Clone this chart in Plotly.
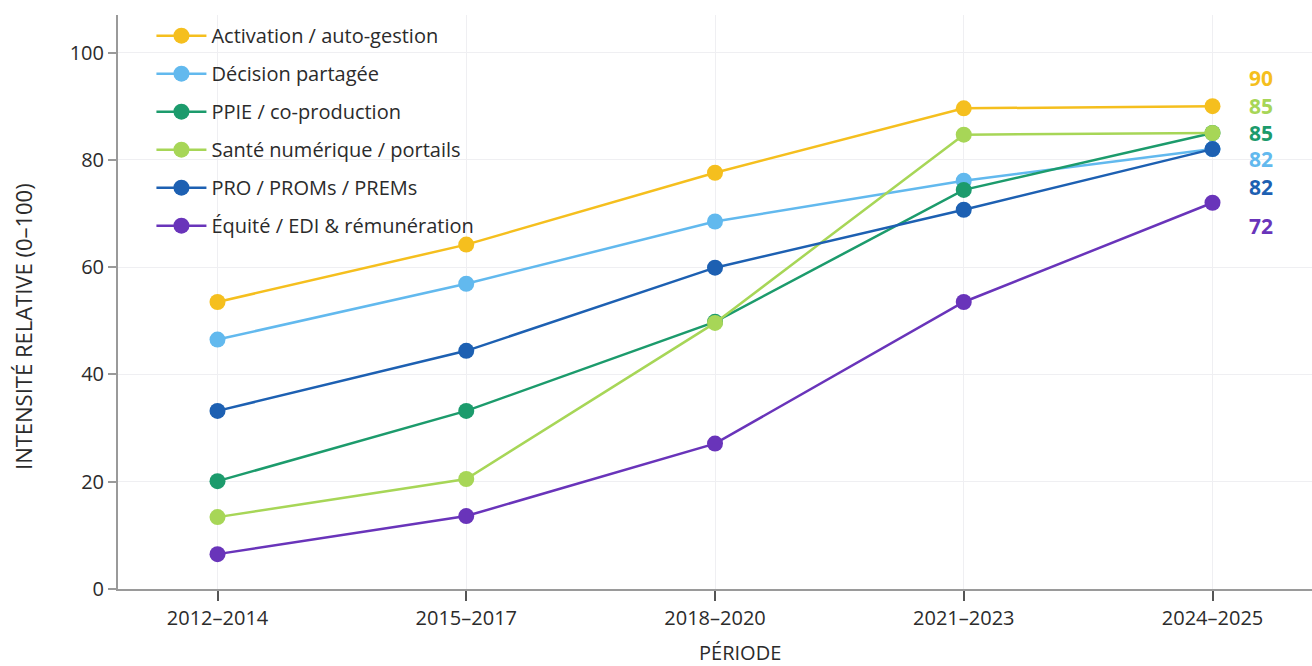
import plotly.graph_objects as go

periods = ["2012–2014", "2015–2017", "2018–2020", "2021–2023", "2024–2025"]

activation = [53.5, 64.2, 77.6, 89.6, 90]
decision = [46.5, 56.9, 68.5, 76.1, 82]
ppie = [20.1, 33.2, 49.8, 74.4, 85]
sante = [13.4, 20.5, 49.6, 84.7, 85]
pro = [33.2, 44.4, 59.9, 70.7, 82]
equite = [6.5, 13.6, 27.1, 53.5, 72]

series_names = [
    "Activation / auto-gestion",
    "Décision partagée",
    "PPIE / co-production",
    "Santé numérique / portails",
    "PRO / PROMs / PREMs",
    "Équité / EDI & rémunération",
]
series_values = [activation, decision, ppie, sante, pro, equite]
colors = ["#F5BF1E", "#62B9EE", "#1C9B6C", "#A7D657", "#1D60B2", "#6934BA"]

# vertical nudges (px) so the end labels don't collide
label_shift = [28, -10, 0, 27, -38, -23]

FONT = "Open Sans, sans-serif"
TEXT = "#2B2B2B"

fig = go.Figure()
for i, (name, vals, col) in enumerate(zip(series_names, series_values, colors)):
    fig.add_trace(go.Scatter(
        x=periods, y=vals, name=name, mode="lines+markers",
        line=dict(color=col, width=2.5),
        marker=dict(color=col, size=16),
        legendgroup=f"g{i}",
        cliponaxis=False,
    ))
    fig.add_annotation(
        x=periods[-1], y=vals[-1], text=f"<b>{vals[-1]:g}</b>",
        showarrow=False, xanchor="center", yanchor="middle",
        xshift=48, yshift=label_shift[i],
        font=dict(family=FONT, size=21, color=col),
    )

# axis titles
fig.add_annotation(
    x=0.521, y=0, xref="paper", yref="paper", yanchor="middle",
    yshift=-63, text="PÉRIODE", showarrow=False,
    font=dict(family=FONT, size=20, color=TEXT),
)
fig.add_annotation(
    x=0, y=0.5, xref="paper", yref="paper", xanchor="center", yanchor="middle",
    xshift=-95, yshift=-25, text="INTENSITÉ RELATIVE (0–100)", textangle=-90,
    showarrow=False, font=dict(family=FONT, size=22, color=TEXT),
)

fig.update_layout(
    width=1312, height=666,
    margin=dict(l=118, r=0, t=15, b=77),
    paper_bgcolor="white", plot_bgcolor="white",
    font=dict(family=FONT, size=20, color=TEXT),
    showlegend=True,
    legend=dict(
        x=0.028, y=0.998, xanchor="left", yanchor="top",
        font=dict(family=FONT, size=20, color=TEXT),
        bgcolor="rgba(0,0,0,0)", tracegroupgap=9,
        traceorder="grouped", itemwidth=50,
    ),
    xaxis=dict(
        type="category", range=[-0.4, 4.4],
        showgrid=True, gridcolor="#EFEFF2", gridwidth=1,
        showline=True, linecolor="#9A9A9A", linewidth=2,
        ticks="outside", ticklen=10, tickcolor="#555555", tickwidth=1.5,
        tickfont=dict(family=FONT, size=20, color=TEXT),
        zeroline=False,
    ),
    yaxis=dict(
        range=[0, 107], tickvals=[0, 20, 40, 60, 80, 100],
        showgrid=True, gridcolor="#EFEFF2", gridwidth=1,
        showline=True, linecolor="#9A9A9A", linewidth=2,
        ticks="outside", ticklen=8, tickcolor="#9A9A9A", tickwidth=1.5,
        tickfont=dict(family=FONT, size=20, color=TEXT),
        zeroline=False,
    ),
)

fig.write_html("out.html")
